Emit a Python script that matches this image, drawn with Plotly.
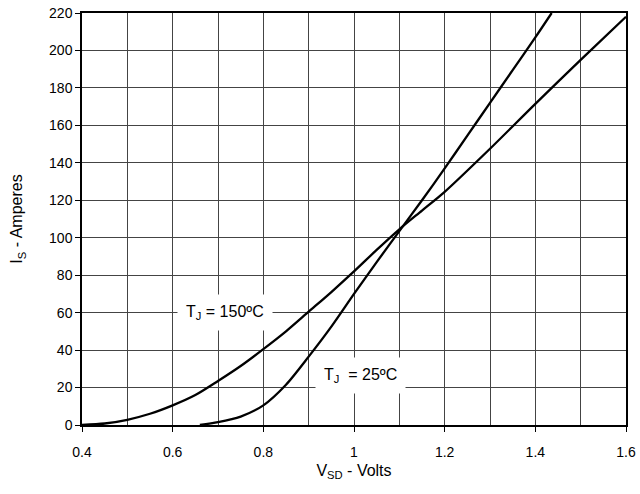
import plotly.graph_objects as go

# Data
v_150 = [0.40, 0.45, 0.50, 0.55, 0.60, 0.65, 0.70, 0.75, 0.80, 0.85, 0.90, 0.95, 1.00, 1.05, 1.10, 1.15, 1.20, 1.30, 1.40, 1.50, 1.60]
i_150 = [0.0, 0.8, 2.8, 6.0, 10.5, 16.0, 23.5, 31.5, 40.5, 50.0, 60.5, 71.0, 82.0, 93.5, 104.5, 114.5, 124.5, 147.5, 171.5, 195.0, 218.0]

v_25 = [0.66, 0.70, 0.75, 0.80, 0.85, 0.90, 0.95, 1.00, 1.05, 1.10, 1.15, 1.20, 1.25, 1.30, 1.35, 1.40, 1.436]
i_25 = [0.0, 1.5, 4.5, 10.5, 21.5, 36.5, 52.5, 70.0, 87.0, 103.5, 120.0, 137.0, 154.5, 172.0, 189.5, 207.0, 220.0]

x_ticks = [0.4, 0.6, 0.8, 1.0, 1.2, 1.4, 1.6]
x_ticklabels = ["0.4", "0.6", "0.8", "1", "1.2", "1.4", "1.6"]
y_ticks = list(range(0, 221, 20))

label_150 = "T<sub>J</sub> = 150ºC"
label_25 = "T<sub>J</sub>  = 25ºC"

font_family = "Liberation Sans, Arial, sans-serif"

fig = go.Figure()
fig.add_trace(go.Scatter(x=v_150, y=i_150, mode="lines",
                         line=dict(color="black", width=2.3, shape="spline", smoothing=0.8),
                         showlegend=False))
fig.add_trace(go.Scatter(x=v_25, y=i_25, mode="lines",
                         line=dict(color="black", width=2.3, shape="spline", smoothing=0.8),
                         showlegend=False))

fig.add_annotation(x=0.715, y=60, text=label_150, showarrow=False,
                   bgcolor="white", borderpad=8,
                   font=dict(family=font_family, size=16, color="black"))
fig.add_annotation(x=1.015, y=26.5, text=label_25, showarrow=False,
                   bgcolor="white", borderpad=8,
                   font=dict(family=font_family, size=16, color="black"))

fig.update_xaxes(range=[0.4, 1.6], tickvals=x_ticks, ticktext=x_ticklabels,
                 ticks="outside", ticklen=5, tickcolor="black",
                 ticklabelstandoff=8,
                 showgrid=True, gridcolor="#444", gridwidth=1,
                 minor=dict(dtick=0.1, showgrid=True, gridcolor="#444", gridwidth=1, ticks=""),
                 showline=True, linecolor="black", linewidth=1.5, mirror=True,
                 zeroline=False, automargin=False,
                 tickfont=dict(family=font_family, size=14, color="black"),
                 title=dict(text="V<sub>SD</sub> - Volts", standoff=6,
                            font=dict(family=font_family, size=16, color="black")))
fig.update_yaxes(range=[0, 220], tickvals=y_ticks,
                 ticks="outside", ticklen=5, tickcolor="black",
                 showgrid=True, gridcolor="#444", gridwidth=1,
                 showline=True, linecolor="black", linewidth=1.5, mirror=True,
                 zeroline=False, automargin=False,
                 tickfont=dict(family=font_family, size=14, color="black"),
                 title=dict(text="I<sub>S</sub> - Amperes", standoff=22,
                            font=dict(family=font_family, size=16, color="black")))

fig.update_layout(width=640, height=494,
                  margin=dict(l=82, r=14, t=13, b=69),
                  plot_bgcolor="white", paper_bgcolor="white")

fig.write_html("out.html")
